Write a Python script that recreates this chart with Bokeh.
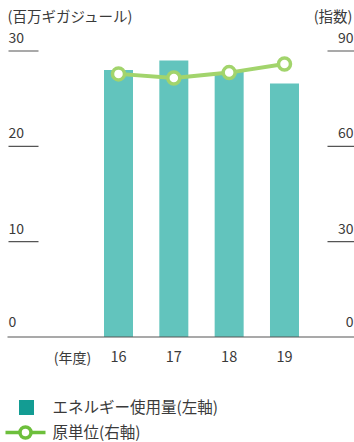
from bokeh.plotting import figure
from bokeh.models import Range1d
from bokeh.core.properties import value
from bokeh.embed import file_html
from bokeh.resources import INLINE

# ---- data ----
years = [16, 17, 18, 19]
year_labels = ["16", "17", "18", "19"]
energy = [28.0, 29.0, 27.8, 26.6]          # 百万ギガジュール (left axis)
intensity = [82.8, 81.5, 83.2, 85.9]       # 指数 (right axis)
left_ticks = [0, 10, 20, 30]
right_ticks = [0, 30, 60, 90]
left_unit = "(百万ギガジュール)"
right_unit = "(指数)"
x_unit = "(年度)"
legend_labels = ["エネルギー使用量(左軸)", "原単位(右軸)"]

W, H = 354, 442
FONT = "Noto Sans CJK JP"
TXT = "#3a3a3a"
BAR = "#62c4bd"
BAR_LEG = "#139c93"
LINE = "#a2d46c"
LINE_LEG = "#6dbf3c"

# pixel geometry of the reference
base_px = 336.5        # y of value 0
top_px = 50.5          # y of value 30 / 90
px_per = (base_px - top_px) / 30.0
y_end = 30 + top_px / px_per
y_start = -(H - base_px) / px_per

px_per_idx = (base_px - top_px) / 90.0
i_end = 90 + top_px / px_per_idx
i_start = -(H - base_px) / px_per_idx

x_px_per = 55.33
x_start = 16 - 118 / x_px_per
x_end = x_start + W / x_px_per

def xp(px):
    return x_start + px / x_px_per

def yp(px):
    return y_end - px / px_per

p = figure(width=W, height=H, output_backend="svg", toolbar_location=None,
           x_range=Range1d(x_start, x_end), y_range=Range1d(y_start, y_end),
           min_border=0, min_border_left=0, min_border_right=0,
           min_border_top=0, min_border_bottom=0)
p.extra_y_ranges = {"idx": Range1d(i_start, i_end)}
p.xaxis.visible = False
p.yaxis.visible = False
p.xgrid.visible = False
p.ygrid.visible = False
p.outline_line_color = None
p.background_fill_color = "white"
p.border_fill_color = "white"

# bars
p.vbar(x=years, top=energy, bottom=0, width=29 / x_px_per, fill_color=BAR,
       line_color=None)

# baseline
p.segment(x0=[xp(7)], x1=[xp(354)], y0=[0], y1=[0], line_color="#555555",
          line_width=1.2)

# left tick marks + labels
lt = [t for t in left_ticks if t > 0]
p.segment(x0=[xp(8)] * len(lt), x1=[xp(38)] * len(lt), y0=lt, y1=lt,
          line_color="#555555", line_width=1.2)
p.text(x=[xp(8)] * len(left_ticks),
       y=[t + (16 if t == 0 else 13.5) / px_per for t in left_ticks],
       text=[str(t) for t in left_ticks], text_font=value(FONT),
       text_font_size="14px", text_color=TXT, text_align="left",
       text_baseline="alphabetic")

# right tick marks + labels
rt = [t for t in right_ticks if t > 0]
p.segment(x0=[xp(327)] * len(rt), x1=[xp(354)] * len(rt), y0=rt, y1=rt,
          line_color="#555555", line_width=1.2, y_range_name="idx")
p.text(x=[xp(353)] * len(right_ticks),
       y=[t + (16 if t == 0 else 13.5) / px_per_idx for t in right_ticks],
       text=[str(t) for t in right_ticks], text_font=value(FONT),
       text_font_size="14px", text_color=TXT, text_align="right",
       text_baseline="alphabetic", y_range_name="idx")

# unit labels
p.text(x=[xp(7)], y=[yp(15)], text=[left_unit], text_font=value(FONT),
       text_font_size="14.5px", text_color=TXT, text_align="left",
       text_baseline="middle")
p.text(x=[xp(352)], y=[yp(15)], text=[right_unit], text_font=value(FONT),
       text_font_size="14.5px", text_color=TXT, text_align="right",
       text_baseline="middle")

# x labels
p.text(x=years, y=[yp(356)] * len(years), text=year_labels,
       text_font=value(FONT), text_font_size="14.5px", text_color=TXT,
       text_align="center", text_baseline="middle")
p.text(x=[xp(72)], y=[yp(356)], text=[x_unit], text_font=value(FONT),
       text_font_size="14px", text_color=TXT, text_align="center",
       text_baseline="middle")

# line series (right axis)
p.line(x=years, y=intensity, line_color=LINE, line_width=4,
       y_range_name="idx")
p.scatter(x=years, y=intensity, size=12, fill_color="white",
          line_color=LINE, line_width=3.5, y_range_name="idx")

# legend
p.rect(x=[xp(26)], y=[yp(407)], width=15 / x_px_per, height=15 / px_per,
       fill_color=BAR_LEG, line_color=None)
p.segment(x0=[xp(5)], x1=[xp(45)], y0=[yp(432)], y1=[yp(432)],
          line_color=LINE_LEG, line_width=3.5)
p.scatter(x=[xp(25)], y=[yp(432)], size=11, fill_color="white",
          line_color=LINE_LEG, line_width=3.5)
p.text(x=[xp(52)] * 2, y=[yp(405), yp(430)], text=legend_labels,
       text_font=value(FONT), text_font_size="15.5px", text_color=TXT,
       text_align="left", text_baseline="middle")

open("out.html", "w").write(file_html(p, INLINE))
